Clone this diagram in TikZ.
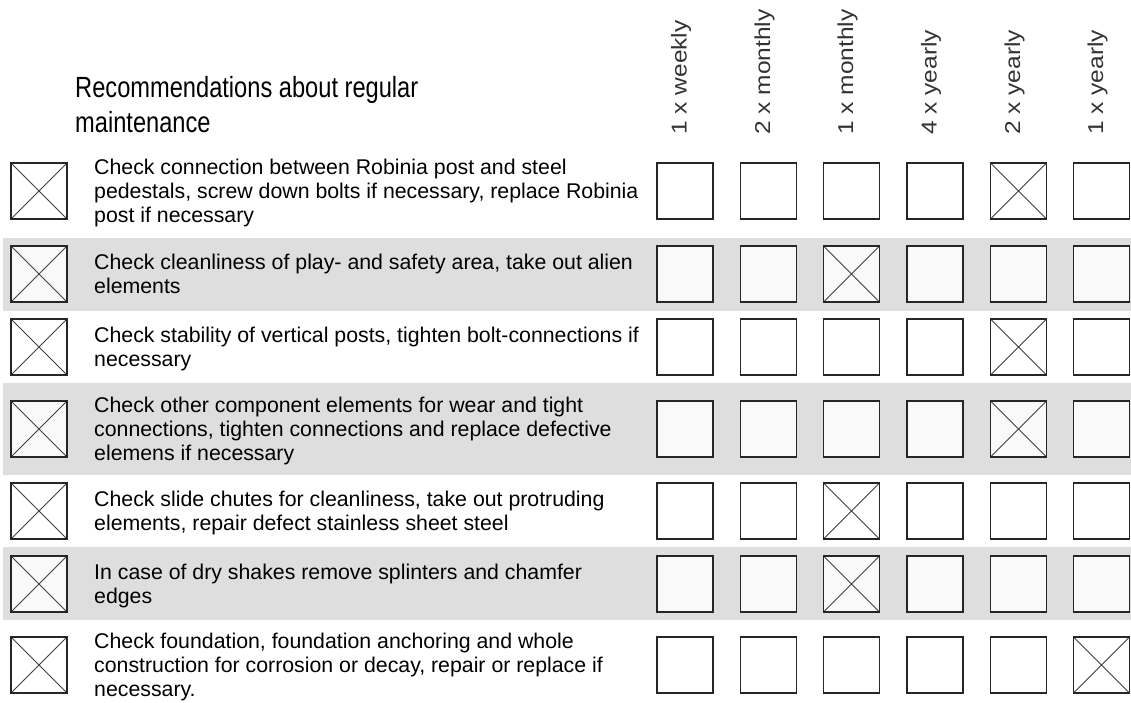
\documentclass[tikz,border=0pt]{standalone}
\usepackage{fontspec}
\setmainfont{Liberation Sans}
\newfontfamily\titlefont[FakeStretch=0.81]{Liberation Sans}
\newfontfamily\headfont[FakeStretch=1.14]{Liberation Sans}
\definecolor{band}{RGB}{222,222,222}
\definecolor{boxin}{RGB}{249,249,249}
\begin{document}
\begin{tikzpicture}[x=1pt,y=-1pt,
  cbox/.style={draw=black!85, line width=1.6pt, minimum width=56pt, minimum height=56pt, inner sep=0pt, outer sep=0pt, fill=white},
  tick/.style={path picture={\draw[line width=0.9pt, black!75] (path picture bounding box.north west) -- (path picture bounding box.south east) (path picture bounding box.north east) -- (path picture bounding box.south west);}},
  rowtext/.style={anchor=base west, inner sep=0pt, font=\fontsize{21.3}{24}\selectfont},
  head/.style={rotate=90, anchor=base west, inner sep=0pt, font=\headfont\fontsize{21.5}{24}\selectfont, text=black!80},
  titletext/.style={anchor=base west, inner sep=0pt, font=\titlefont\fontsize{29.2}{35}\selectfont}
]
\fill[white] (0,0) rectangle (1131,702);
\useasboundingbox (0,0) rectangle (1131,702);

% bands
\fill[band] (3,238) rectangle (1131,311);
\fill[band] (3,383) rectangle (1131,475);
\fill[band] (3,547) rectangle (1131,620);

% title
\node[titletext] (title) at (75,97) {\parbox[t]{500pt}{Recommendations about regular\\maintenance}};

% column headers
\node[head] (h1) at (686.5,135) {1 x weekly};
\node[head] (h2) at (770,135) {2 x monthly};
\node[head] (h3) at (853,135) {1 x monthly};
\node[head] (h4) at (936.5,135) {4 x yearly};
\node[head] (h5) at (1020,135) {2 x yearly};
\node[head] (h6) at (1103,135) {1 x yearly};

% boxes
\foreach \r/\cy/\f/\c in {1/191/white/5, 2/274/boxin/3, 3/347/white/5, 4/429/boxin/5, 5/511/white/3, 6/584/boxin/3, 7/665/white/6}{
  \node[cbox, tick, fill=\f] (L\r) at (39,\cy) {};
  \foreach \k/\cx in {1/685,2/768.5,3/851.5,4/935,5/1018.5,6/1101.5}{
    \ifnum\k=\c
      \node[cbox, tick, fill=\f] (B\r\k) at (\cx,\cy) {};
    \else
      \node[cbox, fill=\f] (B\r\k) at (\cx,\cy) {};
    \fi
  }
}

% row texts
\node[rowtext] (t1) at (94,174.5) {\parbox[t]{560pt}{Check connection between Robinia post and steel\\pedestals, screw down bolts if necessary, replace Robinia\\post if necessary}};
\node[rowtext] (t2) at (94,269.5) {\parbox[t]{560pt}{Check cleanliness of play- and safety area, take out alien\\elements}};
\node[rowtext] (t3) at (94,342.5) {\parbox[t]{560pt}{Check stability of vertical posts, tighten bolt-connections if\\necessary}};
\node[rowtext] (t4) at (94,412.5) {\parbox[t]{560pt}{Check other component elements for wear and tight\\connections, tighten connections and replace defective\\elemens if necessary}};
\node[rowtext] (t5) at (94,506.5) {\parbox[t]{560pt}{Check slide chutes for cleanliness, take out protruding\\elements, repair defect stainless sheet steel}};
\node[rowtext] (t6) at (94,579.5) {\parbox[t]{560pt}{In case of dry shakes remove splinters and chamfer\\edges}};
\node[rowtext] (t7) at (94,648.5) {\parbox[t]{560pt}{Check foundation, foundation anchoring and whole\\construction for corrosion or decay, repair or replace if\\necessary.}};
\end{tikzpicture}
\end{document}
